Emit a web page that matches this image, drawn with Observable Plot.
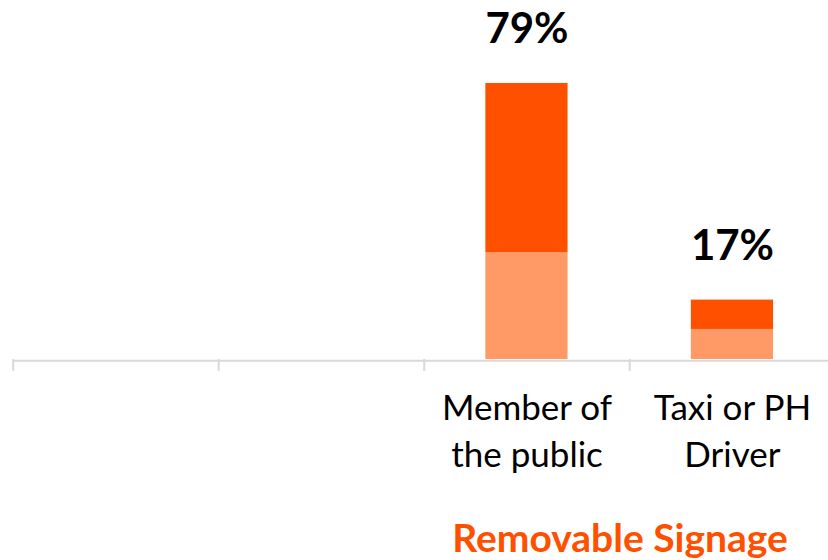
<!DOCTYPE html>
<html>
<head>
<meta charset="utf-8">
<script src="https://cdn.jsdelivr.net/npm/d3@7"></script>
<script src="https://cdn.jsdelivr.net/npm/@observablehq/plot@0.6"></script>
<style>
  html, body { margin: 0; padding: 0; background: #fff; width: 828px; height: 560px; overflow: hidden; }
  #title { position: absolute; left: 0; top: 500px; width: 828px; font-family: Lato, sans-serif; font-weight: bold; font-size: 39px; color: #FF5000; }
  #title span { position: absolute; left: 620px; transform: translateX(-50%); white-space: nowrap; top: 14px; }
</style>
</head>
<body>
<div id="chart"></div>
<div id="title"><span>Removable Signage</span></div>
<script>
const categories = ["", "", "Member of\nthe public", "Taxi or PH\nDriver"];
const lowerValues = [null, null, 30.6, 8.6];
const upperValues = [null, null, 48.4, 8.4];
const totalLabels = [null, null, "79%", "17%"];
const segmentNames = ["lower", "upper"];
const segmentColors = ["#FF9966", "#FF5000"];

const rows = [];
categories.forEach((c, i) => {
  if (lowerValues[i] != null) {
    rows.push({i, cat: c, seg: "lower", y1: 0, y2: lowerValues[i]});
    rows.push({i, cat: c, seg: "upper", y1: lowerValues[i], y2: lowerValues[i] + upperValues[i]});
  }
});
const totals = categories.map((c, i) => ({i, cat: c, total: lowerValues[i] == null ? null : lowerValues[i] + upperValues[i], label: totalLabels[i]})).filter(d => d.total != null);
const cats = categories.map((c, i) => ({i, cat: c}));

const chart = Plot.plot({
  width: 828,
  height: 500,
  marginLeft: 0, marginRight: 0, marginTop: 9.6, marginBottom: 141,
  x: {type: "linear", domain: [0, categories.length], range: [12.7, 834.7], axis: null},
  y: {type: "linear", domain: [0, 100], axis: null},
  color: {domain: segmentNames, range: segmentColors},
  style: {fontFamily: "Lato, sans-serif", background: "#fff", overflow: "visible"},
  marks: [
    Plot.rectY(rows, {x1: d => d.i + 0.3, x2: d => d.i + 0.7, y1: "y1", y2: "y2", fill: "seg"}),
    Plot.ruleY([0], {stroke: "#d9d9d9", strokeWidth: 2, x1: 0, x2: categories.length, dy: 1.3}),
    Plot.ruleX(cats, {x: "i", y1: 0, y2: 0, insetBottom: -12, dy: 0, stroke: "#d9d9d9", strokeWidth: 2}),
    Plot.text(totals, {x: d => d.i + 0.5, y: "total", text: "label", dy: -40, lineAnchor: "bottom", fontSize: 42, fontWeight: "bold", fill: "#000"}),
    Plot.text(cats, {x: d => d.i + 0.5, y: 0, text: "cat", dy: 27, lineAnchor: "top", fontSize: 35, lineHeight: 1.34, fill: "#000"})
  ]
});
document.getElementById("chart").appendChild(chart);
</script>
</body>
</html>
